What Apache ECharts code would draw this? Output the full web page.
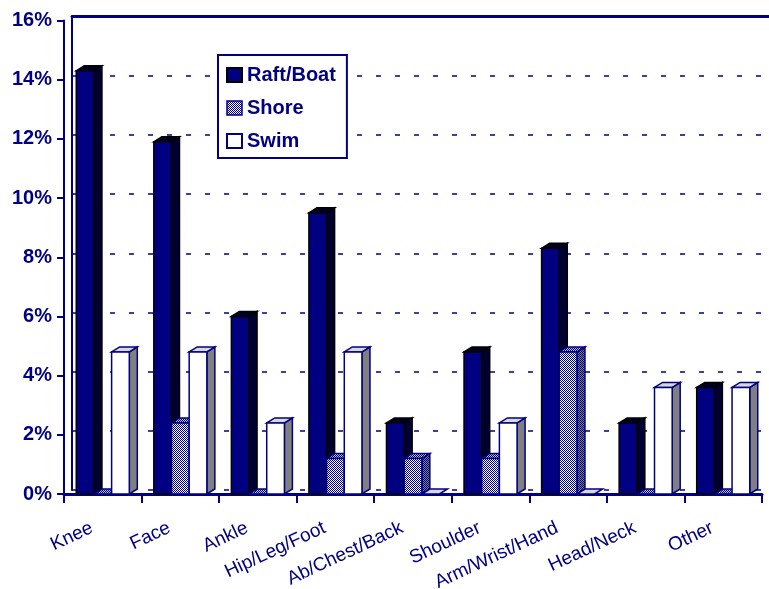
<!DOCTYPE html>
<html><head><meta charset="utf-8">
<script src="https://cdn.jsdelivr.net/npm/echarts@6/dist/echarts.min.js"></script>
<style>html,body{margin:0;padding:0;background:#fff}#c{width:769px;height:589px}</style>
</head><body><div id="c"></div>
<script>
const categories = ['Knee', 'Face', 'Ankle', 'Hip/Leg/Foot', 'Ab/Chest/Back', 'Shoulder', 'Arm/Wrist/Hand', 'Head/Neck', 'Other'];
const raftBoat = [14.3, 11.9, 6.0, 9.5, 2.4, 4.8, 8.3, 2.4, 3.6];
const shore = [0, 2.4, 0, 1.2, 1.2, 1.2, 4.8, 0, 0];
const swim = [4.8, 4.8, 2.4, 4.8, 0, 2.4, 0, 3.6, 3.6];
const seriesNames = ['Raft/Boat', 'Shore', 'Swim'];

const NAVY = '#000080';
const FONT = '"Liberation Sans", Arial, sans-serif';

function makePattern(c1, c2) {
  const cv = document.createElement('canvas');
  cv.width = 2; cv.height = 2;
  const ctx = cv.getContext('2d');
  ctx.fillStyle = c2; ctx.fillRect(0, 0, 2, 2);
  ctx.fillStyle = c1; ctx.fillRect(0, 0, 1, 1); ctx.fillRect(1, 1, 1, 1);
  return { image: cv, repeat: 'repeat' };
}

const styles = [
  { front: NAVY, side: '#000033', top: '#000020', stroke: '#000000' },
  { front: makePattern(NAVY, '#ffffff'), side: makePattern(NAVY, '#808080'), top: makePattern(NAVY, '#c0c0c0'), stroke: NAVY },
  { front: '#ffffff', side: '#808080', top: '#d8d8d8', stroke: NAVY }
];

function makeSeries(name, values, sIdx) {
  const st = styles[sIdx];
  return {
    type: 'custom',
    name: name,
    xAxisIndex: 0,
    yAxisIndex: 0,
    z: 5,
    data: values.map((v, i) => [i, v]),
    encode: { x: 0, y: 1 },
    itemStyle: { color: sIdx === 1 ? '#8080c0' : st.front },
    renderItem: function (params, api) {
      const i = api.value(0), v = api.value(1);
      const p0 = api.coord([i, 0]);
      const p1 = api.coord([i, v]);
      const band = api.size([1, 0])[0];
      const bw = band * 0.228;
      const x0 = p0[0] - 1.5 * bw + sIdx * bw;
      const x1 = x0 + bw;
      const yb = p0[1], yt = p1[1];
      const dx = 8, dy = -5;
      const children = [];
      if (v > 0) {
        children.push({ type: 'polygon', shape: { points: [[x1, yt], [x1 + dx, yt + dy], [x1 + dx, yb + dy], [x1, yb]] },
          style: { fill: st.side, stroke: st.stroke, lineWidth: 1.5 } });
      }
      children.push({ type: 'polygon', shape: { points: [[x0, yt], [x0 + dx, yt + dy], [x1 + dx, yt + dy], [x1, yt]] },
        style: { fill: st.top, stroke: st.stroke, lineWidth: 1.5 } });
      if (v > 0) {
        children.push({ type: 'rect', shape: { x: x0, y: yt, width: bw, height: yb - yt },
          style: { fill: st.front, stroke: st.stroke, lineWidth: 1.5 } });
      }
      return { type: 'group', children: children };
    }
  };
}

const chart = echarts.init(document.getElementById('c'));
chart.setOption({
  animation: false,
  backgroundColor: '#ffffff',
  grid: [
    { left: 64, right: 7, top: 20.5, bottom: 95, outerBoundsMode: 'none', containLabel: false },
    { left: 72, right: 0, top: 16.5, bottom: 99, outerBoundsMode: 'none', containLabel: false }
  ],
  legend: {
    left: 218, top: 55, orient: 'vertical',
    itemWidth: 15, itemHeight: 14, itemGap: 13,
    padding: [10, 11, 7, 8],
    borderColor: NAVY, borderWidth: 2, backgroundColor: '#ffffff',
    selectedMode: false,
    textStyle: { color: NAVY, fontWeight: 'bold', fontSize: 20, fontFamily: FONT },
    data: [
      { name: seriesNames[0], icon: 'rect', itemStyle: { color: NAVY, borderColor: '#000', borderWidth: 2 } },
      { name: seriesNames[1], icon: 'rect', itemStyle: { color: makePattern(NAVY, '#ffffff'), borderColor: NAVY, borderWidth: 1.5 } },
      { name: seriesNames[2], icon: 'rect', itemStyle: { color: '#ffffff', borderColor: NAVY, borderWidth: 2 } }
    ]
  },
  xAxis: [
    {
      gridIndex: 0, type: 'category', data: categories,
      axisLine: { lineStyle: { color: NAVY, width: 3 } },
      axisTick: { show: true, length: 9, lineStyle: { color: NAVY, width: 2 } },
      axisLabel: { rotate: 25, margin: 28, padding: [0, 12, 0, 0], color: NAVY, fontSize: 19, fontFamily: FONT, interval: 0 }
    },
    {
      gridIndex: 1, type: 'category', data: categories, position: 'top',
      axisLine: { onZero: false, lineStyle: { color: NAVY, width: 3 } },
      axisTick: { show: false }, axisLabel: { show: false }
    }
  ],
  yAxis: [
    {
      gridIndex: 0, type: 'value', min: 0, max: 16, interval: 2,
      axisLine: { show: true, lineStyle: { color: NAVY, width: 2 } },
      axisTick: { show: true, length: 7, lineStyle: { color: NAVY, width: 2 } },
      axisLabel: { formatter: '{value}%', margin: 12, color: NAVY, fontSize: 20, fontWeight: 'bold', fontFamily: FONT },
      splitLine: { show: false }
    },
    {
      gridIndex: 1, type: 'value', min: 0, max: 16, interval: 2,
      axisLine: { show: true, onZero: false, lineStyle: { color: NAVY, width: 2 } },
      axisTick: { show: false }, axisLabel: { show: false },
      splitLine: { show: true, lineStyle: { type: [5, 14], color: NAVY, width: 1.5 } }
    }
  ],
  series: [
    makeSeries(seriesNames[0], raftBoat, 0),
    makeSeries(seriesNames[1], shore, 1),
    makeSeries(seriesNames[2], swim, 2)
  ]
});
</script>
</body></html>
